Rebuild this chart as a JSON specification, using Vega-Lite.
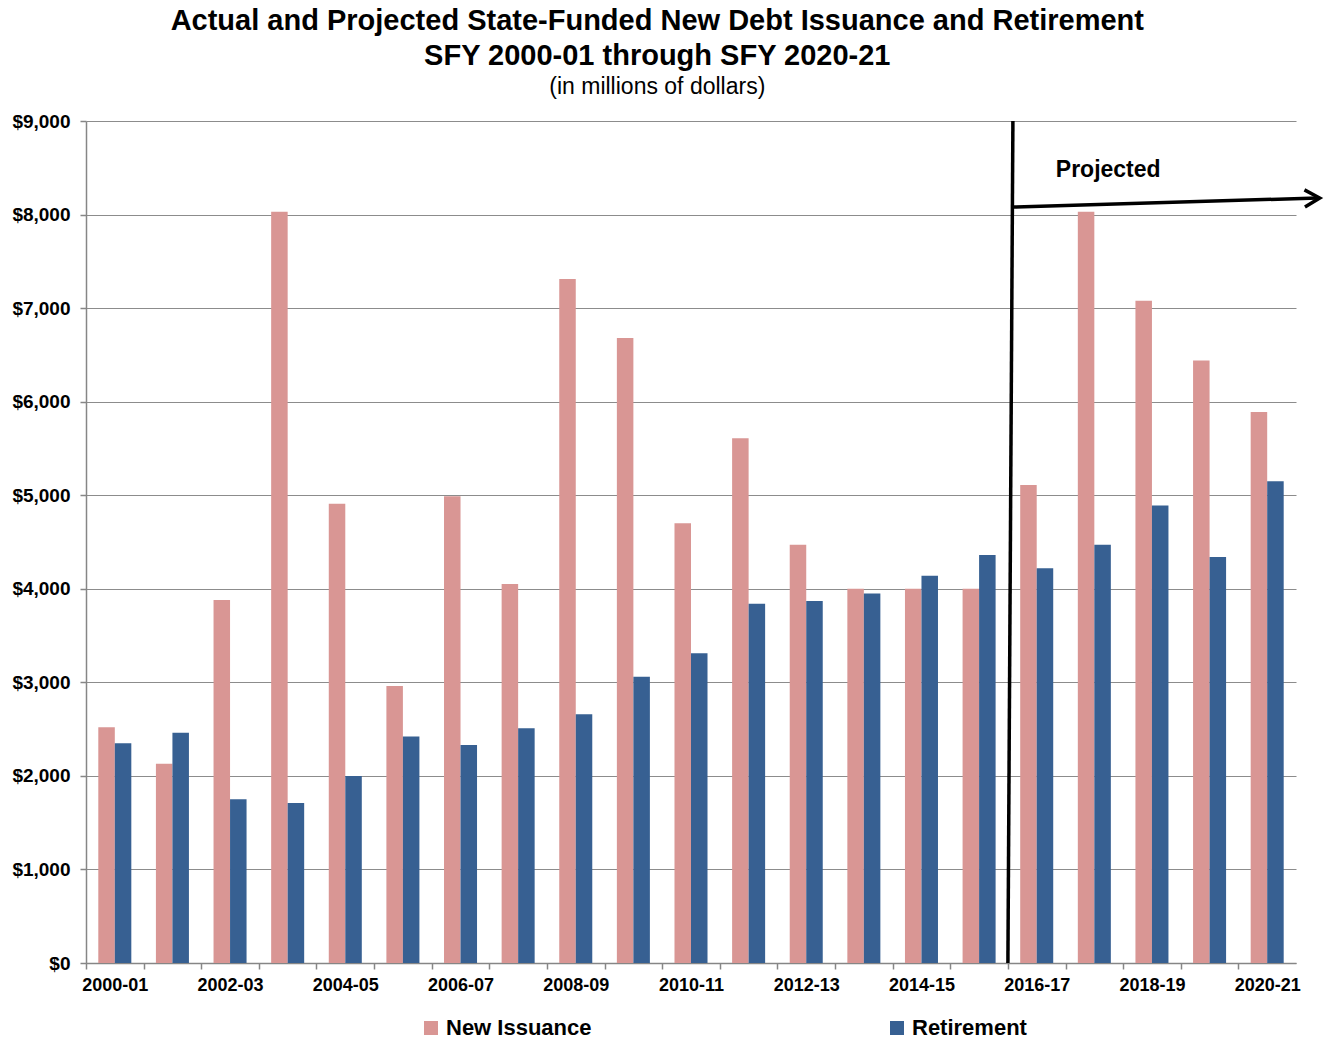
{
  "$schema": "https://vega.github.io/schema/vega-lite/v6.json",
  "width": 1210,
  "height": 842,
  "autosize": {"type": "none"},
  "padding": {"left": 86, "top": 121, "right": 31, "bottom": 77},
  "background": "white",
  "config": {
    "font": "Liberation Sans",
    "view": {"stroke": null}
  },
  "title": {
    "text": ["Actual and Projected State-Funded New Debt Issuance and Retirement", "SFY 2000-01 through SFY 2020-21"],
    "subtitle": "(in millions of dollars)",
    "frame": "bounds",
    "anchor": "middle",
    "dx": -12,
    "fontSize": 29,
    "fontWeight": "bold",
    "lineHeight": 35,
    "color": "black",
    "subtitleFontSize": 23,
    "subtitleColor": "black",
    "subtitleFont": "Liberation Sans",
    "subtitlePadding": 5,
    "offset": 13
  },
  "datasets": {
    "debt": [
      {"year": "2000-01", "series": "New Issuance", "value": 2520},
      {"year": "2001-02", "series": "New Issuance", "value": 2130},
      {"year": "2002-03", "series": "New Issuance", "value": 3880},
      {"year": "2003-04", "series": "New Issuance", "value": 8030},
      {"year": "2004-05", "series": "New Issuance", "value": 4910},
      {"year": "2005-06", "series": "New Issuance", "value": 2960},
      {"year": "2006-07", "series": "New Issuance", "value": 4990},
      {"year": "2007-08", "series": "New Issuance", "value": 4050},
      {"year": "2008-09", "series": "New Issuance", "value": 7310},
      {"year": "2009-10", "series": "New Issuance", "value": 6680},
      {"year": "2010-11", "series": "New Issuance", "value": 4700},
      {"year": "2011-12", "series": "New Issuance", "value": 5610},
      {"year": "2012-13", "series": "New Issuance", "value": 4470},
      {"year": "2013-14", "series": "New Issuance", "value": 4000},
      {"year": "2014-15", "series": "New Issuance", "value": 4000},
      {"year": "2015-16", "series": "New Issuance", "value": 4000},
      {"year": "2016-17", "series": "New Issuance", "value": 5110},
      {"year": "2017-18", "series": "New Issuance", "value": 8030},
      {"year": "2018-19", "series": "New Issuance", "value": 7080},
      {"year": "2019-20", "series": "New Issuance", "value": 6440},
      {"year": "2020-21", "series": "New Issuance", "value": 5890},
      {"year": "2000-01", "series": "Retirement", "value": 2350},
      {"year": "2001-02", "series": "Retirement", "value": 2460},
      {"year": "2002-03", "series": "Retirement", "value": 1750},
      {"year": "2003-04", "series": "Retirement", "value": 1710},
      {"year": "2004-05", "series": "Retirement", "value": 2000},
      {"year": "2005-06", "series": "Retirement", "value": 2420},
      {"year": "2006-07", "series": "Retirement", "value": 2330},
      {"year": "2007-08", "series": "Retirement", "value": 2510},
      {"year": "2008-09", "series": "Retirement", "value": 2660},
      {"year": "2009-10", "series": "Retirement", "value": 3060},
      {"year": "2010-11", "series": "Retirement", "value": 3310},
      {"year": "2011-12", "series": "Retirement", "value": 3840},
      {"year": "2012-13", "series": "Retirement", "value": 3870},
      {"year": "2013-14", "series": "Retirement", "value": 3950},
      {"year": "2014-15", "series": "Retirement", "value": 4140},
      {"year": "2015-16", "series": "Retirement", "value": 4360},
      {"year": "2016-17", "series": "Retirement", "value": 4220},
      {"year": "2017-18", "series": "Retirement", "value": 4470},
      {"year": "2018-19", "series": "Retirement", "value": 4890},
      {"year": "2019-20", "series": "Retirement", "value": 4340},
      {"year": "2020-21", "series": "Retirement", "value": 5150}
    ],
    "marker": [{"label": "Projected"}]
  },
  "data": {"name": "debt"},
  "layer": [
    {
      "mark": {"type": "bar"},
      "encoding": {
        "x": {
          "field": "year",
          "type": "nominal",
          "title": null,
          "scale": {"paddingInner": 0.427, "paddingOuter": 0.2135},
          "axis": {
            "tickOffset": -28.8,
            "labelOffset": 28.8,
            "labelAngle": 0,
            "labelOverlap": false,
            "labelExpr": "toNumber(slice(datum.value, 0, 4)) % 2 == 0 ? datum.value : ''",
            "labelFont": "Liberation Sans",
            "labelFontSize": 18,
            "labelFontWeight": "bold",
            "labelColor": "black",
            "labelPadding": 7,
            "domainColor": "#868686",
            "domainWidth": 1.5,
            "tickColor": "#868686",
            "tickWidth": 1.5,
            "tickSize": 6,
            "grid": false
          }
        },
        "xOffset": {
          "field": "series",
          "sort": ["New Issuance", "Retirement"],
          "scale": {"paddingInner": 0, "paddingOuter": 0}
        },
        "y": {
          "field": "value",
          "type": "quantitative",
          "title": null,
          "scale": {"domain": [0, 9000], "nice": false},
          "axis": {
            "values": [0, 1000, 2000, 3000, 4000, 5000, 6000, 7000, 8000, 9000],
            "format": "$,d",
            "labelFont": "Liberation Sans",
            "labelFontSize": 19,
            "labelFontWeight": "bold",
            "labelColor": "black",
            "labelPadding": 10,
            "domainColor": "#868686",
            "domainWidth": 1.5,
            "tickColor": "#868686",
            "tickWidth": 1.5,
            "tickSize": 6,
            "grid": true,
            "gridColor": "#8c8c8c",
            "gridWidth": 1.2
          }
        },
        "color": {
          "field": "series",
          "type": "nominal",
          "scale": {"domain": ["New Issuance", "Retirement"], "range": ["#D99694", "#376092"]},
          "legend": {
            "title": null,
            "orient": "none",
            "legendX": 334,
            "legendY": 896,
            "direction": "horizontal",
            "padding": 0,
            "symbolType": "square",
            "symbolSize": 196,
            "symbolStrokeWidth": 0,
            "labelFont": "Liberation Sans",
            "labelFontSize": 22,
            "labelFontWeight": "bold",
            "labelColor": "black",
            "labelOffset": 4,
            "labelLimit": 400,
            "columnPadding": 294
          }
        }
      }
    },
    {
      "data": {"name": "marker"},
      "mark": {"type": "rule", "color": "black", "strokeWidth": 3.5, "xOffset": -12.3, "x2Offset": -7.3},
      "encoding": {
        "x": {"datum": "2016-17", "bandPosition": 0},
        "x2": {"datum": "2016-17", "bandPosition": 0},
        "y": {"datum": 0},
        "y2": {"datum": 9000}
      }
    },
    {
      "data": {"name": "marker"},
      "mark": {"type": "rule", "color": "black", "strokeWidth": 3.5, "xOffset": -7.3, "x2Offset": 34},
      "encoding": {
        "x": {"datum": "2016-17", "bandPosition": 0},
        "x2": {"datum": "2020-21", "bandPosition": 1},
        "y": {"datum": 8080},
        "y2": {"datum": 8177}
      }
    },
    {
      "data": {"name": "marker"},
      "mark": {
        "type": "point",
        "shape": "M-1,-0.57L0,0L-1,0.57",
        "filled": false,
        "size": 900,
        "stroke": "black",
        "strokeWidth": 3.5,
        "strokeJoin": "miter",
        "opacity": 1,
        "angle": -1.7,
        "xOffset": 36
      },
      "encoding": {
        "x": {"datum": "2020-21", "bandPosition": 1},
        "y": {"datum": 8177}
      }
    },
    {
      "data": {"name": "marker"},
      "mark": {
        "type": "text",
        "font": "Liberation Sans",
        "fontSize": 23,
        "fontWeight": "bold",
        "color": "black",
        "align": "center",
        "baseline": "middle"
      },
      "encoding": {
        "text": {"field": "label"},
        "x": {"datum": "2017-18", "bandPosition": 0.92},
        "y": {"datum": 8476}
      }
    }
  ]
}
